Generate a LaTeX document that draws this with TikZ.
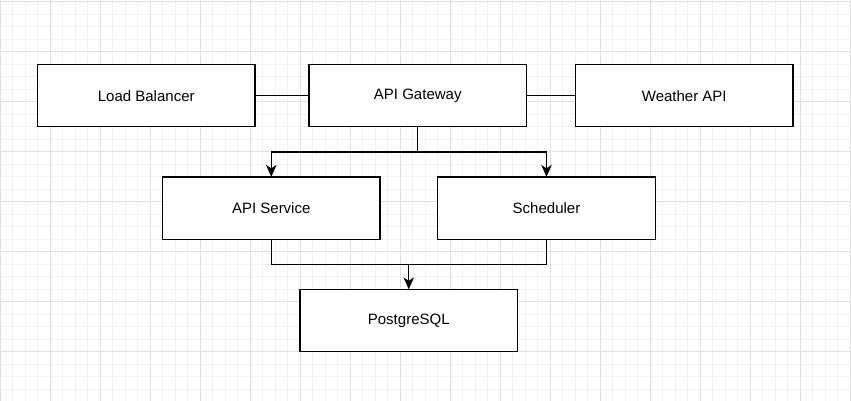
\documentclass[tikz,border=0pt]{standalone}
\usepackage{fontspec}
\setmainfont{Liberation Sans}
\usetikzlibrary{arrows.meta}
\definecolor{gridminor}{HTML}{F3F3F3}
\definecolor{gridmajor}{HTML}{E0E0E0}
\tikzset{
  box/.style={draw=black, line width=1.25pt, fill=white, minimum width=217.5pt, minimum height=62.25pt, inner sep=0pt, outer sep=0pt, font=\fontsize{15pt}{18pt}\selectfont},
  conn/.style={draw=black, line width=1.25pt},
  arr/.style={conn, -{Stealth[length=12pt,width=10.5pt,inset=3.5pt]}},
  gminor/.style={draw=gridminor, line width=0.9pt},
  gmajor/.style={draw=gridmajor, line width=0.9pt}
}
\begin{document}
\begin{tikzpicture}[x=1pt,y=-1pt]
\useasboundingbox (0,0) rectangle (851,401);
\fill[white] (0,0) rectangle (851,401);
% grid
\foreach \i in {0,...,68} {
  \draw[gminor] (\i*12.5,0) -- (\i*12.5,401);
}
\foreach \i in {0,...,32} {
  \draw[gminor] (0,1.5+\i*12.5) -- (851,1.5+\i*12.5);
}
\foreach \i in {0,...,17} {
  \draw[gmajor] (\i*50,0) -- (\i*50,401);
}
\foreach \i in {0,...,8} {
  \draw[gmajor] (0,1.5+\i*50) -- (851,1.5+\i*50);
}
% nodes
\node[box] (lb) at (146.25,95.75) {Load Balancer};
\node[box] (gw) at (417.75,95.75) {API Gateway};
\node[box] (wa) at (684.25,95.75) {Weather API};
\node[box] (api) at (271.25,208) {API Service};
\node[box] (sch) at (546.5,208) {Scheduler};
\node[box] (pg) at (408.75,320.5) {PostgreSQL};
% connectors
\draw[conn] (lb) -- (gw);
\draw[conn] (gw) -- (wa);
\coordinate (split) at (417.75,152);
\coordinate (merge) at (408.75,264.3);
\draw[conn] (gw.south) -- (split);
\draw[arr] (split) -| (api.north);
\draw[arr] (split) -| (sch.north);
\draw[conn] (api.south) |- (merge);
\draw[conn] (sch.south) |- (merge);
\draw[arr] (merge) -- (pg.north);
\end{tikzpicture}
\end{document}
